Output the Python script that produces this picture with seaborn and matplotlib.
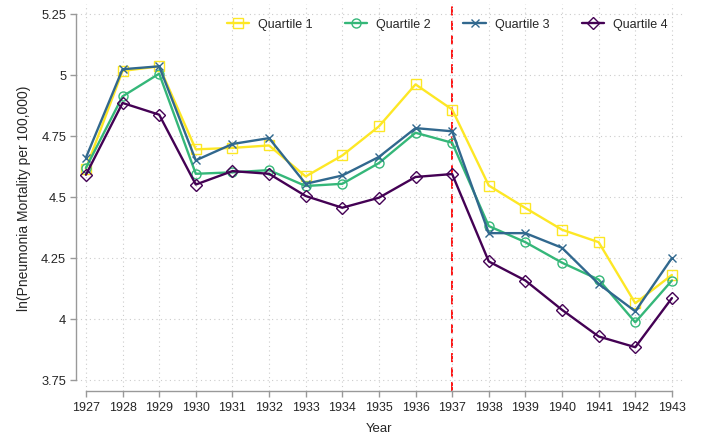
import numpy as np
import pandas as pd
import seaborn as sns
import matplotlib
matplotlib.use("Agg")
import matplotlib.pyplot as plt

# data
years = list(range(1927, 1944))
quartile_1 = [4.615, 5.015, 5.034, 4.694, 4.700, 4.710, 4.583, 4.669, 4.788,
              4.960, 4.857, 4.546, 4.454, 4.365, 4.314, 4.064, 4.180]
quartile_2 = [4.618, 4.911, 5.004, 4.594, 4.600, 4.609, 4.544, 4.553, 4.638,
              4.762, 4.721, 4.380, 4.314, 4.230, 4.161, 3.986, 4.157]
quartile_3 = [4.660, 5.022, 5.034, 4.649, 4.716, 4.740, 4.553, 4.587, 4.663,
              4.781, 4.768, 4.351, 4.351, 4.291, 4.143, 4.031, 4.249]
quartile_4 = [4.590, 4.884, 4.836, 4.550, 4.605, 4.594, 4.503, 4.455, 4.496,
              4.581, 4.593, 4.235, 4.157, 4.037, 3.928, 3.884, 4.085]
labels = ["Quartile 1", "Quartile 2", "Quartile 3", "Quartile 4"]
y_ticks = [3.75, 4, 4.25, 4.5, 4.75, 5, 5.25]
y_tick_labels = ["3.75", "4", "4.25", "4.5", "4.75", "5", "5.25"]
cutoff_year = 1937

colors = ["#fde725", "#35b779", "#31688e", "#440154"]
markers = ["s", "o", "x", "D"]
msizes = [6.5, 6.5, 5.5, 6.5]

sns.set_style("white")
plt.rcParams['font.family'] = ['Liberation Sans', 'DejaVu Sans']

fig = plt.figure(figsize=(7.04, 4.35), dpi=100)
ax = fig.add_axes([0.108, 0.099, 0.862, 0.890])

series = [quartile_1, quartile_2, quartile_3, quartile_4]
for vals, lab, c, m, ms in zip(series, labels, colors, markers, msizes):
    sns.lineplot(x=years, y=vals, ax=ax, color=c, marker=m, markersize=ms,
                 markerfacecolor="none", markeredgecolor=c, markeredgewidth=1.0,
                 linewidth=1.7, label=lab)

ax.axvline(cutoff_year, color="red", linestyle=(0, (5, 3)), linewidth=1.3, zorder=0)

ax.set_xlim(1926.73, 1943.3)
ax.set_ylim(3.705, 5.29)
ax.set_xticks(years)
ax.set_xticklabels([str(y) for y in years], fontsize=9)
ax.set_yticks(y_ticks)
ax.set_yticklabels(y_tick_labels, fontsize=9.3)

ax.grid(True, linestyle=(0, (1, 3)), color="#cccccc", linewidth=0.8)
ax.set_axisbelow(True)

for side in ["top", "right"]:
    ax.spines[side].set_visible(False)
ax.spines["left"].set_bounds(3.75, 5.25)
ax.spines["bottom"].set_bounds(1927, 1943)
for side in ["left", "bottom"]:
    ax.spines[side].set_color("#999999")
    ax.spines[side].set_linewidth(1.0)
ax.tick_params(axis="both", length=4, color="#999999", width=1.0, pad=3)
ax.tick_params(left=True, bottom=True)

ax.set_xlabel("Year", fontsize=9.5, labelpad=7)
ax.set_ylabel("ln(Pneumonia Mortality per 100,000)", fontsize=10, labelpad=7)

ax.legend(loc="upper right", ncol=4, frameon=False, fontsize=9,
          handlelength=1.8, handletextpad=0.7, columnspacing=2.6,
          bbox_to_anchor=(0.993, 0.992))

fig.savefig("out.png", dpi=100)
